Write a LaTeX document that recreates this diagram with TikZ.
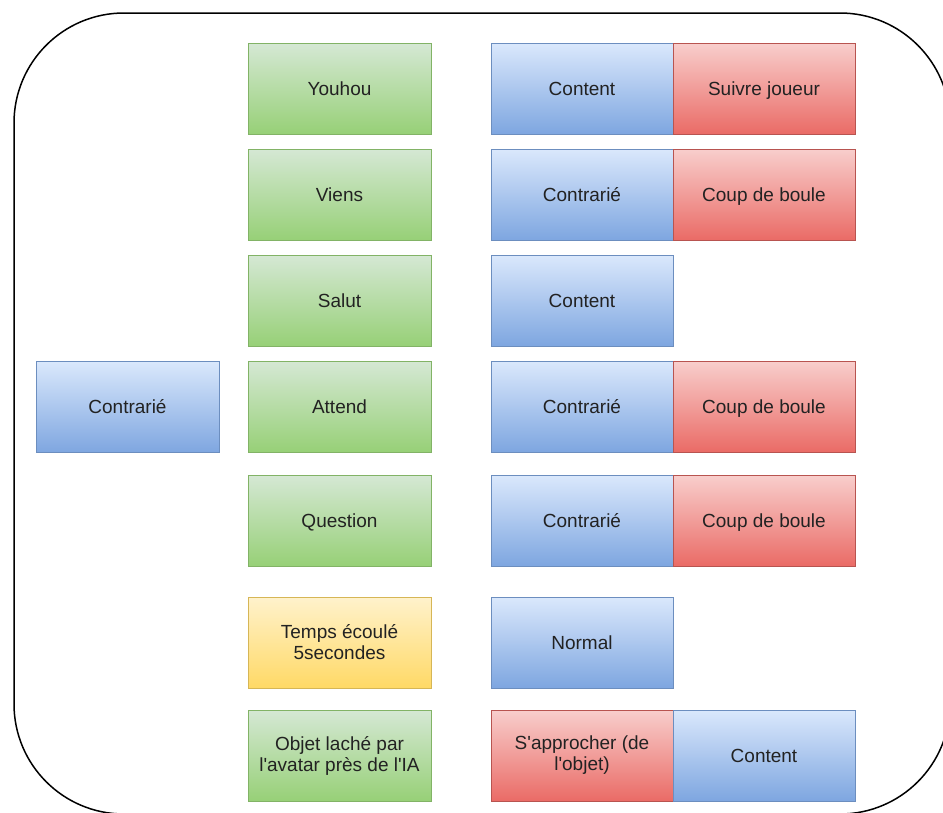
\documentclass[tikz,border=0pt]{standalone}
\usepackage{fontspec}
\setmainfont{Liberation Sans}
\newfontfamily\boxfont{Liberation Sans}
\definecolor{gtop}{HTML}{D5E8D4}\definecolor{gbot}{HTML}{97D077}\definecolor{gstr}{HTML}{82B366}
\definecolor{btop}{HTML}{DAE8FC}\definecolor{bbot}{HTML}{7EA6E0}\definecolor{bstr}{HTML}{6C8EBF}
\definecolor{rtop}{HTML}{F8CECC}\definecolor{rbot}{HTML}{EA6B66}\definecolor{rstr}{HTML}{B85450}
\definecolor{ytop}{HTML}{FFF2CC}\definecolor{ybot}{HTML}{FFD966}\definecolor{ystr}{HTML}{D6B656}
\definecolor{txt}{HTML}{222222}
\tikzset{
  box/.style={rectangle, inner sep=0pt, minimum width=182pt, minimum height=91pt, line width=1pt,
    align=center, text=txt, font=\boxfont\fontsize{19}{21}\selectfont},
  one/.style={text height=13.6pt, text depth=0pt},
  gbox/.style={box, draw=gstr, top color=gtop, bottom color=gbot},
  bbox/.style={box, draw=bstr, top color=btop, bottom color=bbot},
  rbox/.style={box, draw=rstr, top color=rtop, bottom color=rbot},
  ybox/.style={box, draw=ystr, top color=ytop, bottom color=ybot},
}
\begin{document}
\begin{tikzpicture}[x=1pt,y=-1pt]
\useasboundingbox (0,0) rectangle (943,812);
\begin{scope}
\clip (0,0) rectangle (943,812);
\draw[line width=1.5pt, rounded corners=110pt] (14,13) rectangle (950,814);
\end{scope}
% left
\node[bbox, one, minimum width=183pt] (left) at (127.5,407) {Contrarié};
% green column
\node[gbox, one, minimum width=183pt] (g1) at (339.5,88.5) {Youhou};
\node[gbox, one, minimum width=183pt] (g2) at (339.5,194.5) {Viens};
\node[gbox, one, minimum width=183pt] (g3) at (339.5,300.5) {Salut};
\node[gbox, one, minimum width=183pt] (g4) at (339.5,406.5) {Attend};
\node[gbox, one, minimum width=183pt] (g5) at (339.5,520.5) {Question};
\node[ybox, minimum width=183pt] (g6) at (339.5,642.5) {Temps écoulé\\5secondes};
\node[gbox, minimum width=183pt] (g7) at (339.5,755.5) {Objet laché par\\l'avatar près de l'IA};
% right columns
\node[bbox, one] (b1) at (582,88.5) {Content};
\node[rbox, one] (r1) at (764,88.5) {Suivre joueur};
\node[bbox, one] (b2) at (582,194.5) {Contrarié};
\node[rbox, one] (r2) at (764,194.5) {Coup de boule};
\node[bbox, one] (b3) at (582,300.5) {Content};
\node[bbox, one] (b4) at (582,406.5) {Contrarié};
\node[rbox, one] (r4) at (764,406.5) {Coup de boule};
\node[bbox, one] (b5) at (582,520.5) {Contrarié};
\node[rbox, one] (r5) at (764,520.5) {Coup de boule};
\node[bbox, one] (b6) at (582,642.5) {Normal};
\node[rbox] (r7) at (582,755.5) {S'approcher (de\\l'objet)};
\node[bbox, one] (b7) at (764,755.5) {Content};
\end{tikzpicture}
\end{document}
